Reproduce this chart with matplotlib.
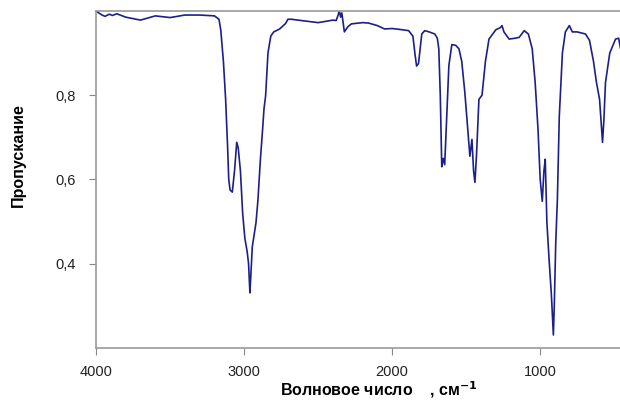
import numpy as np
from matplotlib import pyplot as plt

plt.rcParams['font.family'] = ['Liberation Sans', 'DejaVu Sans']

# IR spectrum: wavenumber (cm-1) and transmittance
wavenumber = [4000, 3995, 3960, 3940, 3910, 3890, 3860, 3800, 3700, 3600, 3500, 3400,
              3300, 3200, 3170, 3158, 3140, 3125, 3112, 3104, 3095, 3080, 3065, 3050,
              3040, 3025, 3010, 2995, 2980, 2970, 2961, 2955, 2945, 2930, 2920, 2907,
              2890, 2875, 2866, 2855, 2839, 2820, 2800, 2760, 2720, 2704, 2680, 2615,
              2500, 2400, 2378, 2365, 2357, 2348, 2340, 2323, 2300, 2276, 2200, 2160,
              2100, 2052, 2000, 1950, 1889, 1860, 1845, 1835, 1822, 1800, 1780, 1750,
              1712, 1695, 1685, 1675, 1665, 1655, 1645, 1635, 1617, 1597, 1570, 1549,
              1530, 1509, 1490, 1475, 1461, 1450, 1441, 1430, 1414, 1393, 1370, 1346,
              1300, 1270, 1258, 1245, 1210, 1170, 1142, 1108, 1080, 1054, 1034, 1015,
              1000, 986, 975, 966, 955, 940, 925, 915, 911, 905, 895, 884, 871, 850,
              830, 803, 783, 750, 694, 667, 640, 620, 599, 585, 579, 570, 559, 530,
              500, 491, 470, 457, 443]
transmittance = [1.0, 0.998, 0.990, 0.987, 0.992, 0.989, 0.993, 0.985, 0.978, 0.988, 0.984, 0.990,
                 0.990, 0.988, 0.980, 0.955, 0.88, 0.79, 0.68, 0.60, 0.575, 0.570, 0.620, 0.688,
                 0.675, 0.62, 0.52, 0.46, 0.43, 0.40, 0.331, 0.37, 0.44, 0.474, 0.497, 0.55,
                 0.648, 0.72, 0.767, 0.798, 0.90, 0.94, 0.950, 0.957, 0.970, 0.980, 0.980, 0.977,
                 0.972, 0.978, 0.977, 0.990, 1.0, 0.985, 0.995, 0.950, 0.962, 0.969, 0.972, 0.971,
                 0.965, 0.957, 0.958, 0.956, 0.953, 0.940, 0.895, 0.869, 0.875, 0.945, 0.953, 0.950,
                 0.945, 0.935, 0.910, 0.80, 0.63, 0.650, 0.635, 0.72, 0.87, 0.920, 0.918, 0.910,
                 0.880, 0.806, 0.72, 0.655, 0.695, 0.62, 0.593, 0.66, 0.79, 0.800, 0.880, 0.933,
                 0.955, 0.960, 0.965, 0.950, 0.933, 0.935, 0.937, 0.953, 0.945, 0.910, 0.83, 0.72,
                 0.600, 0.548, 0.620, 0.648, 0.50, 0.41, 0.33, 0.26, 0.231, 0.30, 0.45, 0.552, 0.75, 0.90,
                 0.950, 0.965, 0.950, 0.950, 0.945, 0.930, 0.88, 0.83, 0.79, 0.72, 0.688, 0.74, 0.83, 0.90,
                 0.925, 0.933, 0.935, 0.910, 0.905]

xticks = [4000, 3000, 2000, 1000]
yticks = [0.4, 0.6, 0.8]
ytick_labels = ['0,4', '0,6', '0,8']

fig = plt.figure(figsize=(6.2, 4.01), dpi=100)
ax = fig.add_axes([0.155, 0.132, 0.85, 0.841])
ax.plot(wavenumber, transmittance, color='#1c1f8a', linewidth=1.2)

ax.set_xlim(4000, 440)
ax.set_ylim(0.2, 1.0)
ax.set_xticks(xticks)
ax.set_xticklabels([str(t) for t in xticks], fontsize=10.5, color='#222222')
ax.set_yticks(yticks)
ax.set_yticklabels(ytick_labels, fontsize=10.5, color='#222222')
ax.tick_params(axis='y', direction='out', length=5, color='#888888', pad=10)
ax.tick_params(axis='x', direction='out', length=5, color='#888888', pad=7)

for side in ['left', 'bottom', 'top']:
    ax.spines[side].set_color('#999999')
    ax.spines[side].set_linewidth(1.2)
ax.spines['right'].set_visible(False)

fig.text(18 / 620, 1 - 155 / 401, 'Пропускание', fontsize=11.5, fontweight='bold',
         rotation=90, ha='center', va='center')
fig.text(379 / 620, 1 - 390 / 401, 'Волновое число    , см$^{\\mathbf{-1}}$', fontsize=11.5,
         fontweight='bold', ha='center', va='center')

fig.savefig('out.png', dpi=100)
